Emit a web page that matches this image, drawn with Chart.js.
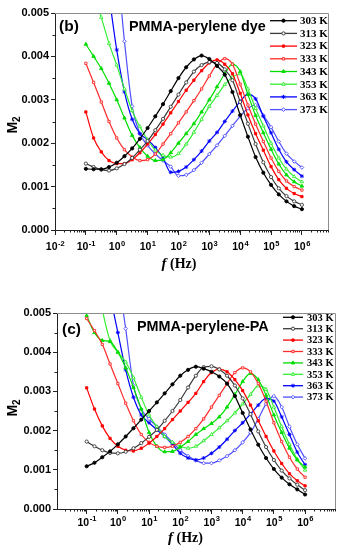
<!DOCTYPE html>
<html>
<head>
<meta charset="utf-8">
<script src="https://cdn.jsdelivr.net/npm/chart.js@4.4.0/dist/chart.umd.min.js"></script>
<style>
html, body { margin: 0; padding: 0; background: #fff; }
canvas { display: block; }
</style>
</head>
<body>
<canvas id="graficoB" width="342" height="275"></canvas>
<canvas id="graficoC" width="342" height="275"></canvas>
<script>
Chart.defaults.font.family = "'Liberation Sans', Arial, sans-serif";
Chart.defaults.color = '#000';

// frequencias (Hz), grade de 1/4 de decada
const freq = [0.1, 0.178, 0.316, 0.562, 1, 1.78, 3.16, 5.62, 10, 17.8, 31.6, 56.2, 100, 178, 316, 562,
  1000, 1780, 3160, 5620, 10000, 17800, 31600, 56200, 100000, 178000, 316000, 562000, 1000000];
const temps = ['303 K', '313 K', '323 K', '333 K', '343 K', '353 K', '363 K', '373 K'];
const yTicks = [0, 1, 2, 3, 4, 5]; // M2 em unidades de 10^-3
const expB = [-2, -1, 0, 1, 2, 3, 4, 5, 6];
const expC = [-1, 0, 1, 2, 3, 4, 5, 6];

// (b) PMMA-perylene dye  (M2 x 10^-3)
const b303 = [1.41,1.40,1.40,1.45,1.55,1.70,1.88,2.10,2.35,2.62,2.90,3.20,3.50,3.75,3.93,4.02,3.94,3.78,3.58,3.18,2.65,2.15,1.68,1.32,1.04,0.82,0.66,0.55,0.48];
const b313 = [1.53,1.45,1.39,1.37,1.42,1.52,1.66,1.85,2.05,2.30,2.56,2.84,3.12,3.40,3.65,3.80,3.87,3.85,3.70,3.45,2.95,2.45,1.98,1.56,1.22,0.96,0.78,0.66,0.58];
const b323 = [2.72,2.12,1.80,1.60,1.53,1.53,1.62,1.78,1.98,2.20,2.44,2.70,2.96,3.22,3.45,3.67,3.85,3.92,3.82,3.60,3.15,2.65,2.22,1.84,1.46,1.16,0.96,0.84,0.77];
const b333 = [3.84,3.40,2.95,2.50,2.12,1.85,1.68,1.60,1.62,1.75,1.98,2.22,2.47,2.72,2.98,3.25,3.55,3.82,3.95,3.82,3.36,2.88,2.44,2.04,1.66,1.35,1.13,1.00,0.92];
const b343 = [4.28,4.00,3.72,3.38,3.00,2.58,2.18,1.90,1.70,1.60,1.62,1.78,2.00,2.22,2.45,2.72,3.00,3.30,3.60,3.82,3.65,3.12,2.64,2.24,1.86,1.52,1.27,1.11,1.01];
const b353 = [6.00,5.45,4.90,4.30,3.80,3.25,2.75,2.38,2.08,1.84,1.72,1.68,1.76,1.98,2.25,2.55,2.85,3.10,3.35,3.52,3.60,3.25,2.80,2.40,2.00,1.66,1.40,1.23,1.11];
const b363 = [9.00,7.80,6.60,5.40,4.15,3.18,2.55,2.22,2.08,1.90,1.66,1.33,1.35,1.45,1.62,1.82,2.05,2.25,2.50,2.74,2.96,3.13,3.02,2.62,2.24,1.86,1.57,1.39,1.24];
const b373 = [10.0,9.20,8.40,7.40,6.20,4.35,2.85,2.22,1.95,1.75,1.60,1.46,1.25,1.27,1.38,1.55,1.75,1.95,2.17,2.40,2.62,2.80,2.88,2.64,2.37,2.04,1.76,1.58,1.44];

// (c) PMMA-perylene-PA  (M2 x 10^-3)
const c303 = [1.09,1.18,1.32,1.47,1.65,1.85,2.06,2.28,2.50,2.72,2.95,3.18,3.40,3.55,3.63,3.58,3.50,3.38,3.20,2.88,2.45,2.03,1.64,1.30,1.02,0.80,0.63,0.50,0.37];
const c313 = [1.72,1.60,1.50,1.43,1.42,1.46,1.55,1.68,1.84,2.02,2.25,2.50,2.78,3.10,3.40,3.62,3.64,3.56,3.40,3.15,2.82,2.42,1.98,1.58,1.25,0.98,0.78,0.62,0.48];
const c323 = [3.09,2.55,2.12,1.80,1.60,1.50,1.48,1.55,1.68,1.85,2.05,2.28,2.50,2.72,2.95,3.25,3.48,3.57,3.50,3.30,3.02,2.65,2.25,1.85,1.48,1.16,0.90,0.72,0.59];
const c333 = [4.86,4.55,4.20,3.70,3.20,2.70,2.25,1.90,1.70,1.60,1.57,1.60,1.70,1.85,2.05,2.30,2.60,2.90,3.20,3.48,3.60,3.50,3.20,2.75,2.20,1.72,1.32,1.02,0.81];
const c343 = [4.93,4.50,4.30,4.27,4.00,3.60,3.10,2.55,1.95,1.60,1.46,1.47,1.58,1.72,1.90,2.05,2.18,2.35,2.60,2.92,3.25,3.46,3.30,2.90,2.40,1.95,1.55,1.25,1.07];
const c353 = [7.50,6.30,5.10,4.30,4.00,3.75,3.35,2.85,2.40,2.10,1.85,1.70,1.60,1.55,1.60,1.74,1.90,2.07,2.25,2.45,2.68,2.92,3.14,3.05,2.60,2.10,1.65,1.27,0.99];
const c363 = [9.00,8.00,6.80,5.50,4.50,3.55,2.85,2.40,2.20,2.02,1.85,1.65,1.42,1.30,1.25,1.30,1.42,1.58,1.78,2.00,2.20,2.42,2.65,2.82,2.75,2.35,1.90,1.45,1.13];
const c373 = [10.0,9.30,8.50,7.50,6.00,4.60,3.15,2.55,2.30,2.10,1.90,1.70,1.50,1.35,1.24,1.17,1.17,1.24,1.35,1.50,1.70,1.95,2.30,2.68,2.88,2.60,2.10,1.65,1.29];

const estilos = [
  { cor: '#000000', ponto: 'circle',   cheio: true,  raio: 1.6 },
  { cor: '#3a3a3a', ponto: 'circle',   cheio: false, raio: 1.6 },
  { cor: '#ff0000', ponto: 'rect',     cheio: true,  raio: 1.6 },
  { cor: '#ff2a2a', ponto: 'rect',     cheio: false, raio: 1.6 },
  { cor: '#00dd00', ponto: 'triangle', cheio: true,  raio: 2.0 },
  { cor: '#33ee33', ponto: 'triangle', cheio: false, raio: 2.0 },
  { cor: '#0000ff', ponto: 'star',     cheio: true,  raio: 2.0 },
  { cor: '#4f4fff', ponto: 'rectRot',  cheio: false, raio: 1.8 }
];

function montaDatasets(series) {
  return series.map((s, i) => {
    const e = estilos[i];
    return {
      label: temps[i],
      data: s.map((v, k) => ({ x: freq[k], y: v })),
      borderColor: e.cor,
      borderWidth: 1.2,
      pointStyle: e.ponto,
      pointRadius: e.raio,
      pointBorderWidth: 0.9,
      pointBorderColor: e.cor,
      pointBackgroundColor: e.cheio ? e.cor : '#ffffff',
      cubicInterpolationMode: 'monotone',
      fill: false
    };
  });
}

const decor = {
  id: 'decor',
  afterDraw(chart, args, o) {
    const ctx = chart.ctx, a = chart.chartArea, sx = chart.scales.x, sy = chart.scales.y;
    ctx.save();
    // moldura de cima e da direita
    ctx.strokeStyle = '#8c8c8c';
    ctx.lineWidth = 1;
    ctx.beginPath();
    ctx.moveTo(a.left, a.top + 0.5);
    ctx.lineTo(a.right + 0.5, a.top + 0.5);
    ctx.lineTo(a.right + 0.5, a.bottom);
    ctx.stroke();

    // ticks menores
    ctx.strokeStyle = '#222';
    ctx.beginPath();
    for (let d = -3; d <= 7; d++) {
      for (let k = 2; k <= 9; k++) {
        const v = k * Math.pow(10, d);
        if (v < sx.min || v > sx.max) continue;
        const px = Math.round(sx.getPixelForValue(v)) + 0.5;
        ctx.moveTo(px, a.bottom);
        ctx.lineTo(px, a.bottom + 2.5);
      }
    }
    for (let i = 0; i < yTicks.length - 1; i++) {
      const py = Math.round(sy.getPixelForValue(yTicks[i] + 0.5)) + 0.5;
      ctx.moveTo(a.left, py);
      ctx.lineTo(a.left - 2.5, py);
    }
    ctx.stroke();

    // rotulos 10^n
    ctx.fillStyle = '#000';
    ctx.textBaseline = 'alphabetic';
    ctx.textAlign = 'left';
    o.expoentes.forEach(e => {
      const px = sx.getPixelForValue(Math.pow(10, e));
      ctx.font = 'bold 10.5px "Liberation Sans", Arial, sans-serif';
      const w10 = ctx.measureText('10').width;
      ctx.font = 'bold 7.5px "Liberation Sans", Arial, sans-serif';
      const wexp = ctx.measureText(String(e)).width;
      const x0 = px - (w10 + wexp) / 2;
      const base = a.bottom + o.rotY;
      ctx.font = 'bold 10.5px "Liberation Sans", Arial, sans-serif';
      ctx.fillText('10', x0, base);
      ctx.font = 'bold 7.5px "Liberation Sans", Arial, sans-serif';
      ctx.fillText(String(e), x0 + w10 + 0.5, base - 4.5);
    });

    // titulo do eixo x: f (Hz)
    ctx.font = 'italic bold 15px "Liberation Serif", "Times New Roman", serif';
    const wf = ctx.measureText('f').width;
    ctx.font = 'bold 14px "Liberation Serif", "Times New Roman", serif';
    const wh = ctx.measureText(' (Hz)').width;
    const xt = o.tituloX - (wf + wh) / 2;
    ctx.font = 'italic bold 15px "Liberation Serif", "Times New Roman", serif';
    ctx.fillText('f', xt, a.bottom + o.tituloY);
    ctx.font = 'bold 14px "Liberation Serif", "Times New Roman", serif';
    ctx.fillText(' (Hz)', xt + wf, a.bottom + o.tituloY);

    // titulo do eixo y: M2
    ctx.save();
    ctx.translate(o.mX, o.mY);
    ctx.rotate(-Math.PI / 2);
    ctx.font = 'bold 14px "Liberation Sans", Arial, sans-serif';
    const wm = ctx.measureText('M').width;
    ctx.font = 'bold 10px "Liberation Sans", Arial, sans-serif';
    const w2 = ctx.measureText('2').width;
    ctx.font = 'bold 14px "Liberation Sans", Arial, sans-serif';
    ctx.fillText('M', -(wm + w2) / 2, 5);
    ctx.font = 'bold 10px "Liberation Sans", Arial, sans-serif';
    ctx.fillText('2', -(wm + w2) / 2 + wm, 8);
    ctx.restore();

    // letra do painel e nome da amostra
    ctx.font = 'bold 15.5px "Liberation Sans", Arial, sans-serif';
    ctx.fillText(o.letra, o.letraX, o.letraY);
    ctx.font = 'bold 14.4px "Liberation Sans", Arial, sans-serif';
    ctx.fillText(o.amostra, o.amostraX, o.amostraY);

    // legenda
    const L = o.legenda;
    chart.data.datasets.forEach((ds, i) => {
      const y = L.y0 + i * L.dy;
      ctx.strokeStyle = ds.borderColor;
      ctx.lineWidth = 1.3;
      ctx.beginPath();
      ctx.moveTo(L.x1, y);
      ctx.lineTo(L.x2, y);
      ctx.stroke();
      ctx.lineWidth = 1;
      ctx.fillStyle = ds.pointBackgroundColor;
      ctx.strokeStyle = ds.pointBorderColor;
      Chart.helpers.drawPoint(ctx, { pointStyle: ds.pointStyle, radius: ds.pointRadius, borderWidth: 1, rotation: 0 }, (L.x1 + L.x2) / 2, y);
      ctx.fillStyle = '#000';
      ctx.font = 'bold ' + L.fonte + 'px "Liberation Serif", "Times New Roman", serif';
      ctx.textBaseline = 'middle';
      ctx.fillText(ds.label, L.xt, y + 0.5);
      ctx.textBaseline = 'alphabetic';
    });
    ctx.restore();
  }
};

function criaGrafico(id, series, cfg) {
  return new Chart(document.getElementById(id), {
    type: 'line',
    data: { datasets: montaDatasets(series) },
    plugins: [decor],
    options: {
      responsive: false,
      animation: false,
      layout: { padding: cfg.padding },
      plugins: { legend: { display: false }, tooltip: { enabled: false }, decor: cfg.decor },
      scales: {
        x: {
          type: 'logarithmic',
          min: cfg.xMin,
          max: cfg.xMax,
          afterFit: s => { s.height = cfg.xAlt; },
          afterBuildTicks: s => {
            s.ticks = cfg.decor.expoentes.map(e => ({ value: Math.pow(10, e) }));
          },
          ticks: { callback: () => '', autoSkip: false, maxRotation: 0, padding: 0 },
          grid: { drawOnChartArea: false, drawTicks: true, tickLength: 5, color: '#222' },
          border: { color: '#222', width: 1 }
        },
        y: {
          min: 0,
          max: 5,
          afterFit: s => { s.width = cfg.yLarg; },
          afterBuildTicks: s => { s.ticks = yTicks.map(v => ({ value: v })); },
          ticks: {
            padding: 2,
            font: { weight: 'bold', size: 11 },
            color: '#000',
            callback: v => (v / 1000).toFixed(3)
          },
          grid: { drawOnChartArea: false, drawTicks: true, tickLength: 4, color: '#222' },
          border: { color: '#222', width: 1 }
        }
      }
    }
  });
}

criaGrafico('graficoB', [b303, b313, b323, b333, b343, b353, b363, b373], {
  padding: { top: 13, right: 14, left: 0, bottom: 0 },
  xMin: 0.01, xMax: 7e6, xAlt: 45, yLarg: 55,
  decor: {
    expoentes: expB, rotY: 20, tituloX: 179, tituloY: 38, mX: 12, mY: 125,
    letra: '(b)', letraX: 59, letraY: 31,
    amostra: 'PMMA-perylene dye', amostraX: 129, amostraY: 31,
    legenda: { x1: 270, x2: 297, xt: 300, y0: 20.7, dy: 12.7, fonte: 11 }
  }
});

criaGrafico('graficoC', [c303, c313, c323, c333, c343, c353, c363, c373], {
  padding: { top: 38, right: 7, left: 0, bottom: 0 },
  xMin: 0.0112, xMax: 9.1e6, xAlt: 41, yLarg: 57,
  decor: {
    expoentes: expC, rotY: 16.7, tituloX: 185.5, tituloY: 33, mX: 12, mY: 133,
    letra: '(c)', letraX: 62, letraY: 59,
    amostra: 'PMMA-perylene-PA', amostraX: 137, amostraY: 56,
    legenda: { x1: 283, x2: 303, xt: 307, y0: 42.3, dy: 11.4, fonte: 10.5 }
  }
});
</script>
</body>
</html>
